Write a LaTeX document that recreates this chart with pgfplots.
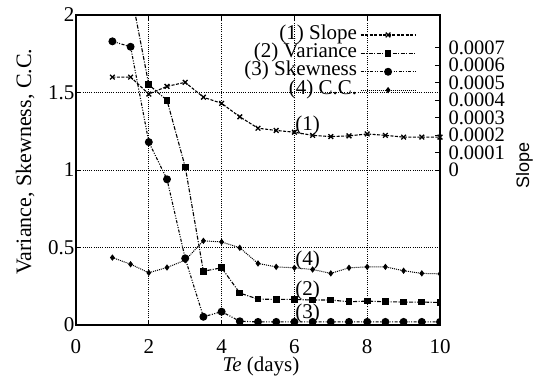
\documentclass[border=0pt]{standalone}
\usepackage{fontspec}
\setmainfont{Liberation Serif}
\newfontfamily\sansf{Liberation Sans}
\usepackage{pgfplots}
\pgfplotsset{compat=1.18}
\pgfplotstableread{
x y
1 0.000531
1.5 0.000531
2 0.000434
2.5 0.000478
3 0.000501
3.5 0.000416
4 0.000381
4.5 0.000304
5 0.000239
5.5 0.000226
6 0.000216
6.5 0.000198
7 0.000191
7.5 0.000195
8 0.000206
8.5 0.000198
9 0.000188
9.5 0.000188
10 0.000188
}\slope
\pgfplotstableread{
x y
1 2.8
1.5 2.16
2 1.55
2.5 1.45
3 1.02
3.5 0.347
4 0.369
4.5 0.206
5 0.167
5.5 0.165
6 0.165
6.5 0.161
7 0.161
7.5 0.150
8 0.154
8.5 0.150
9 0.148
9.5 0.148
10 0.145
}\variance
\pgfplotstableread{
x y
1 1.83
1.5 1.795
2 1.18
2.5 0.94
3 0.43
3.5 0.053
4 0.086
4.5 0.024
5 0.02
5.5 0.02
6 0.02
6.5 0.02
7 0.02
7.5 0.02
8 0.02
8.5 0.02
9 0.02
9.5 0.02
10 0.02
}\skewness
\pgfplotstableread{
x y
1 0.435
1.5 0.392
2 0.337
2.5 0.371
3 0.418
3.5 0.543
4 0.536
4.5 0.498
5 0.397
5.5 0.375
6 0.369
6.5 0.358
7 0.333
7.5 0.369
8 0.375
8.5 0.375
9 0.350
9.5 0.333
10 0.330
}\cc
\pgfplotsset{
  sA/.style={black, line width=1.1pt, dash pattern=on 3pt off 1.5pt, mark=x, mark size=3.3pt, mark options={solid, line width=1.3pt}},
  sB/.style={black, line width=1.1pt, dash pattern=on 4pt off 1.5pt on 1pt off 1.5pt, mark=square*, mark size=2.8pt, mark options={solid}},
  sC/.style={black, line width=1.1pt, dash pattern=on 3pt off 1.5pt on 1pt off 1.5pt on 1pt off 1.5pt, mark=*, mark size=3.4pt, mark options={solid}},
  sD/.style={black, line width=1.0pt, dash pattern=on 1pt off 1pt, mark=diamond*, mark size=2.4pt, mark options={solid}},
  common/.style={scale only axis, width=364pt, height=310pt, xmin=0, xmax=10,
    font=\fontsize{21}{25}\selectfont, tick align=inside,
    /pgf/number format/assume math mode=true,
    axis line style={line width=1.4pt}, major tick length=5pt,
    every tick/.style={black, line width=0.9pt}},
}
\begin{document}
\begin{tikzpicture}
\useasboundingbox (-76pt,-57pt) rectangle (457pt,325pt);
\begin{axis}[common,
  ymin=0, ymax=2,
  xtick={0,2,...,10}, ytick={0,0.5,1,1.5,2},
  xtick pos=both, ytick pos=left,
  grid=major, grid style={black, line width=0.7pt, dash pattern=on 1pt off 1.2pt},
  xticklabel style={yshift=-11pt},
  yticklabel style={xshift=2pt},
  xlabel={\textit{Te} (days)},
  xlabel style={at={(axis description cs:0.508,-0.149)}, anchor=base},
  ylabel={Variance, Skewness, C.C.},
  ylabel style={at={(axis description cs:-0.1236,0.527)}, anchor=base, font=\fontsize{22}{26}\selectfont},
  clip marker paths=true,
]
\addplot[sB] table {\variance};
\addplot[sC] table {\skewness};
\addplot[sD] table {\cc};
\node at (axis cs:6.36,1.29) {(1)};
\node at (axis cs:6.36,0.414) {(4)};
\node at (axis cs:6.36,0.225) {(2)};
\node at (axis cs:6.36,0.075) {(3)};
\end{axis}
\begin{axis}[common,
  ymin=-0.000886, ymax=0.000886,
  axis x line=none, axis y line*=right,
  scaled y ticks=false,
  ytick={0,0.0001,0.0002,0.0003,0.0004,0.0005,0.0006,0.0007},
  yticklabels={0,0.0001,0.0002,0.0003,0.0004,0.0005,0.0006,0.0007},
  yticklabel style={anchor=west, xshift=5pt, font=\fontsize{20.5}{24}\selectfont},
  ylabel={\sansf Slope},
  ylabel style={at={(axis description cs:1.2445,0.513)}, anchor=base, font=\fontsize{18}{22}\selectfont},
  legend style={at={(axis description cs:0.935,0.968)}, anchor=north east, draw=none, fill=none, inner sep=0pt,
    nodes={inner sep=0pt, text height=14pt, text depth=5.7pt}, column sep=3pt, row sep=-1.3pt},
  legend cell align=right, legend plot pos=right,
  legend image code/.code={\draw[mark repeat=2,mark phase=2] plot coordinates {(0pt,0pt) (27.5pt,0pt) (55pt,0pt)};},
]
\addplot[sA] table {\slope};
\addlegendentry{(1) Slope}
\addlegendimage{sB}
\addlegendentry{(2) Variance}
\addlegendimage{sC}
\addlegendentry{(3) Skewness}
\addlegendimage{sD}
\addlegendentry{(4) C.C.}
\end{axis}
\end{tikzpicture}
\end{document}
